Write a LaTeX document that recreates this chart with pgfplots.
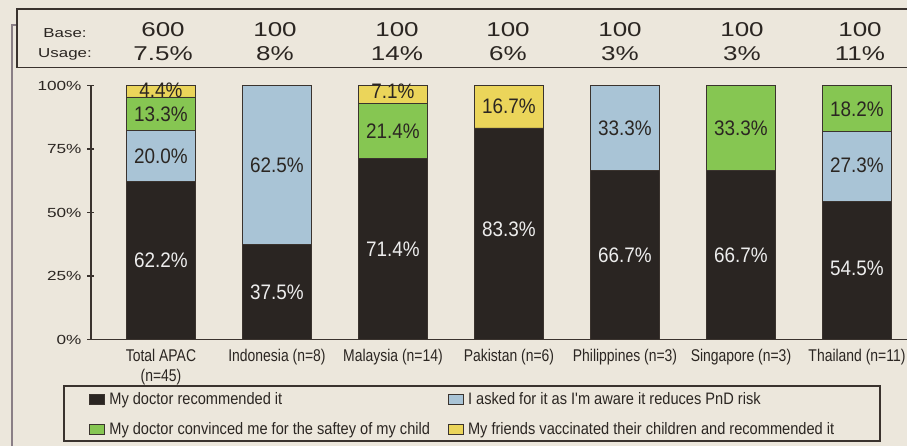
\documentclass[border=0pt]{standalone}
\usepackage{pgfplots}
\usepackage{pgfplotstable}
\pgfplotsset{compat=1.18}
\usepackage{fontspec}
\setmainfont{Liberation Sans}
\newfontfamily\widef[FakeStretch=1.3]{Liberation Sans}
\newfontfamily\narrowf[FakeStretch=0.82]{Liberation Sans}
\newfontfamily\legf[FakeStretch=0.88]{Liberation Sans}
\newfontfamily\barf[FakeStretch=0.9]{Liberation Sans}
\definecolor{paper}{HTML}{ECE7DC}
\definecolor{cblack}{HTML}{2A2522}
\definecolor{cblue}{HTML}{A9C4D6}
\definecolor{cgreen}{HTML}{86C652}
\definecolor{cyellow}{HTML}{EBD55A}
\definecolor{edge}{HTML}{3A332E}
\definecolor{ink}{HTML}{2B2622}
\definecolor{frame}{HTML}{8A7F86}

\pgfplotstableread{
x doc ask conv friend
0 62.2 20.0 13.3 4.4
1 37.5 62.5 0 0
2 71.4 0 21.4 7.1
3 83.3 0 0 16.7
4 66.7 33.3 0 0
5 66.7 0 33.3 0
6 54.5 27.3 18.2 0
}\datatable

\begin{document}
\begin{tikzpicture}
\fill[paper] (-45.5pt,-53.25pt) rectangle (408pt,169.75pt);
\path[use as bounding box] (-45.5pt,-53.25pt) rectangle (408pt,169.75pt);
% frame line and header box
\draw[frame, line width=0.9pt] (-39.5pt,-53.25pt) -- (-39.5pt,157.25pt) -- (-37pt,157.25pt);
\draw[edge, line width=0.9pt] (410pt,165.25pt) -- (-37pt,165.25pt) -- (-37pt,136pt) -- (410pt,136pt);
\node[font=\widef\fontsize{6.5}{7}\selectfont, text=ink, anchor=base] at (-13pt,150.8pt) {Base:};
\node[font=\widef\fontsize{6.5}{7}\selectfont, text=ink, anchor=base] at (-13pt,140.8pt) {Usage:};
\foreach \xx/\b/\u in {36/600/7.5\%, 92/100/8\%, 153/100/14\%, 208.5/100/6\%, 264.5/100/3\%, 325.5/100/3\%, 384.5/100/11\%}{
  \node[font=\widef\fontsize{10}{12}\selectfont, text=ink, anchor=base] at (\xx pt,151.3pt) {\b};
  \node[font=\widef\fontsize{10}{12}\selectfont, text=ink, anchor=base] at (\xx pt,139.3pt) {\u};
}
\begin{axis}[
  at={(0pt,0pt)}, anchor=south west,
  scale only axis, width=408pt, height=127pt,
  ybar stacked, bar width=34.5pt,
  xmin=-0.6034, xmax=6.431, ymin=0, ymax=100,
  axis x line=bottom, axis y line=left,
  axis line style={-, draw=edge, line width=0.7pt},
  xtick={0,1,2,3,4,5,6},
  xticklabels={{Total APAC\\(n=45)},{Indonesia (n=8)},{Malaysia (n=14)},{Pakistan (n=6)},{Philippines (n=3)},{Singapore (n=3)},{Thailand (n=11)}},
  xtick style={draw=none},
  xticklabel style={font=\narrowf\fontsize{8.5}{10.2}\selectfont, align=center, text=ink, yshift=0.5pt},
  ytick={0,25,50,75,100},
  yticklabels={0\%,25\%,50\%,75\%,100\%},
  ytick style={draw=edge, line width=0.7pt},
  tick align=center, major tick length=3.5pt,
  yticklabel style={font=\widef\fontsize{6.6}{7}\selectfont, text=ink, xshift=0.5pt},
  clip=false,
  legend columns=2,
  legend cell align=left,
  legend image code/.code={\draw[#1, line width=0.5pt, draw=edge] (0pt,-2.6pt) rectangle (7.5pt,2.6pt);},
  legend style={draw=none, fill=none, font=\legf\fontsize{8.3}{9}\selectfont, text=ink,
    at={(axis description cs:-0.0025,-0.19)}, anchor=north west, inner sep=0pt,
    row sep=3.5pt, /tikz/column 2/.style={column sep=7pt}},
]
\addplot[fill=cblack, draw=edge, line width=0.4pt] table[x=x,y=doc]{\datatable};
\addlegendentry{My doctor recommended it}
\addplot[fill=cblue, draw=edge, line width=0.4pt] table[x=x,y=ask]{\datatable};
\addlegendentry{I asked for it as I'm aware it reduces PnD risk}
\addplot[fill=cgreen, draw=edge, line width=0.4pt] table[x=x,y=conv]{\datatable};
\addlegendentry{My doctor convinced me for the saftey of my child}
\addplot[fill=cyellow, draw=edge, line width=0.4pt] table[x=x,y=friend]{\datatable};
\addlegendentry{My friends vaccinated their children and recommended it}
\end{axis}
% value labels (x = 35pt + 58pt per category, y = 1.27pt per percent)
\tikzset{wl/.style={font=\barf\fontsize{10.5}{12}\selectfont, text=white!93!black},
         dl/.style={font=\barf\fontsize{10.5}{12}\selectfont, text=ink}}
\foreach \i/\v/\s/\t in {0/31.1/wl/62.2, 0/72.2/dl/20.0, 0/88.85/dl/13.3, 0/98.2/dl/4.4,
  1/18.75/wl/37.5, 1/68.75/dl/62.5,
  2/35.7/wl/71.4, 2/82.1/dl/21.4, 2/97.6/dl/7.1,
  3/43.5/wl/83.3, 3/91.65/dl/16.7,
  4/33.35/wl/66.7, 4/83.35/dl/33.3,
  5/33.35/wl/66.7, 5/83.35/dl/33.3,
  6/28.2/wl/54.5, 6/68.4/dl/27.3, 6/90.6/dl/18.2}{
  \pgfmathsetmacro{\px}{35+58*\i}
  \pgfmathsetmacro{\py}{1.27*\v}
  \node[\s] at (\px pt,\py pt) {\t\%};
}
\draw[edge, line width=0.7pt] (-13.5pt,-23.25pt) rectangle (394.5pt,-50.75pt);
\end{tikzpicture}
\end{document}
